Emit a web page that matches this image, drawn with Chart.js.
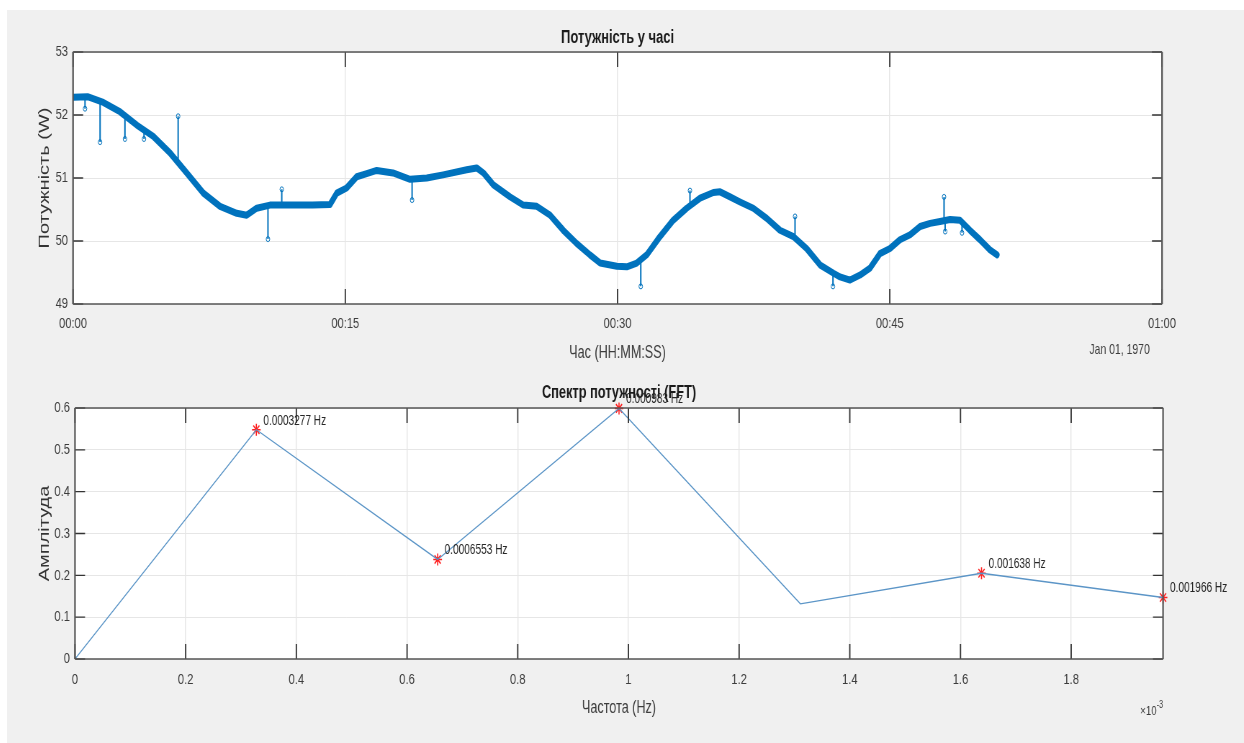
<!DOCTYPE html>
<html>
<head>
<meta charset="utf-8">
<script src="https://cdn.jsdelivr.net/npm/chart.js@4.4.1/dist/chart.umd.min.js"></script>
<style>
  html, body { margin: 0; padding: 0; background: #ffffff; width: 1244px; height: 743px; overflow: hidden; }
  #figure { position: absolute; left: 7px; top: 10px; width: 1237px; height: 733px; background: #f0f0f0; overflow: hidden; }
  #figure canvas { position: absolute; left: 0; transform-origin: 0 0; transform: scaleX(0.72); }
</style>
</head>
<body>
<div id="figure">
  <canvas id="powerChart" width="1718" height="360" style="top:0px"></canvas>
  <canvas id="spectrumChart" width="1718" height="373" style="top:360px"></canvas>
</div>
<script>
// Figure is drawn on a wide canvas and squeezed horizontally by SX (narrow figure text)
const SX = 0.72;
const FONT = "'Liberation Sans', Arial, Helvetica, sans-serif";

// ---- Power over time (minutes since 00:00, watts) ----
const powerTimes = [
  0, 0.8, 1.67, 2.59, 3.51, 4.42, 5.34, 6.26, 7.18, 8.10,
  9.02, 9.57, 10.12, 10.85, 12.0, 13.2, 14.16, 14.53, 15.07, 15.63,
  16.18, 16.73, 17.63, 18.57, 19.49, 20.39, 21.69, 22.24, 22.61, 23.16,
  24.08, 24.81, 25.55, 26.28, 27.01, 27.75, 28.48, 29.04, 29.96, 30.51,
  31.06, 31.61, 32.34, 33.07, 33.81, 34.55, 35.28, 35.65, 36.20, 36.75,
  37.48, 38.22, 38.95, 39.69, 40.42, 41.16, 41.89, 42.26, 42.81, 43.36,
  43.91, 44.46, 45.01, 45.56, 46.12, 46.67, 47.22, 47.77, 48.32, 48.87,
  49.42, 49.97, 50.52, 50.91
];
const powerValues = [
  52.28, 52.29, 52.20, 52.05, 51.84, 51.66, 51.40, 51.08, 50.76, 50.55,
  50.44, 50.41, 50.52, 50.57, 50.57, 50.57, 50.58, 50.76, 50.84, 51.02,
  51.07, 51.12, 51.08, 50.98, 51.00, 51.05, 51.13, 51.16, 51.08, 50.89,
  50.70, 50.57, 50.55, 50.41, 50.17, 49.96, 49.78, 49.65, 49.60, 49.59,
  49.65, 49.78, 50.07, 50.33, 50.52, 50.68, 50.77, 50.78, 50.70, 50.62,
  50.52, 50.36, 50.17, 50.07, 49.88, 49.62, 49.49, 49.43, 49.38, 49.46,
  49.57, 49.80, 49.88, 50.02, 50.10, 50.23, 50.28, 50.31, 50.34, 50.33,
  50.17, 50.02, 49.86, 49.78
];
// short outliers: time, level they leave from, level they reach
const spikeTimes = [0.66, 1.49, 2.86, 3.91, 5.79, 10.74, 11.50, 18.68, 31.28, 33.99, 39.78, 41.87, 47.99, 48.05, 48.98];
const spikeBase  = [52.28, 52.22, 52.00, 51.76, 51.22, 50.56, 50.57, 50.98, 49.70, 50.56, 50.05, 49.50, 50.33, 50.33, 50.33];
const spikePeak  = [52.10, 51.57, 51.62, 51.62, 51.98, 50.03, 50.82, 50.65, 49.28, 50.80, 50.39, 49.28, 50.70, 50.15, 50.13];

const timeTicks = [0, 15, 30, 45, 60];
const powerTicks = [49, 50, 51, 52, 53];

// ---- FFT amplitude spectrum (Hz) ----
const freqs = [0, 0.0003277, 0.0006553, 0.000983, 0.0013107, 0.001638, 0.001966];
const amps  = [0, 0.548, 0.238, 0.599, 0.132, 0.205, 0.147];
const peakFreqs = [0.0003277, 0.0006553, 0.000983, 0.001638, 0.001966];
const peakAmps  = [0.548, 0.238, 0.599, 0.205, 0.147];

const freqTicks = [0, 0.0002, 0.0004, 0.0006, 0.0008, 0.001, 0.0012, 0.0014, 0.0016, 0.0018];
const ampTicks = [0, 0.1, 0.2, 0.3, 0.4, 0.5, 0.6];

const BLUE = '#0072BD';
const TEXT = '#3c3c3c';

function pad2(n) { return String(n).padStart(2, '0'); }

// white axes box, inward ticks on all four sides, dark frame
const matlabAxes = {
  id: 'matlabAxes',
  beforeDraw(chart) {
    const { ctx, chartArea: a } = chart;
    ctx.save();
    ctx.fillStyle = '#ffffff';
    ctx.fillRect(a.left, a.top, a.right - a.left, a.bottom - a.top);
    ctx.restore();
  },
  afterDatasetsDraw(chart) {
    const { ctx, chartArea: a, scales: { x, y } } = chart;
    ctx.save();
    ctx.strokeStyle = '#333333';
    ctx.lineWidth = 1.3 / SX;
    x.ticks.forEach(t => {
      const px = x.getPixelForValue(t.value);
      ctx.beginPath();
      ctx.moveTo(px, a.bottom); ctx.lineTo(px, a.bottom - 15);
      ctx.moveTo(px, a.top); ctx.lineTo(px, a.top + 15);
      ctx.stroke();
    });
    ctx.lineWidth = 1.3;
    y.ticks.forEach(t => {
      const py = y.getPixelForValue(t.value);
      ctx.beginPath();
      ctx.moveTo(a.left, py); ctx.lineTo(a.left + 14, py);
      ctx.moveTo(a.right, py); ctx.lineTo(a.right - 14, py);
      ctx.stroke();
    });
    ctx.strokeStyle = '#555555';
    ctx.lineWidth = 1.6;
    ctx.beginPath();
    ctx.moveTo(a.left, a.top); ctx.lineTo(a.right, a.top);
    ctx.moveTo(a.left, a.bottom); ctx.lineTo(a.right, a.bottom);
    ctx.stroke();
    ctx.lineWidth = 1.6 / SX;
    ctx.beginPath();
    ctx.moveTo(a.left, a.top); ctx.lineTo(a.left, a.bottom);
    ctx.moveTo(a.right, a.top); ctx.lineTo(a.right, a.bottom);
    ctx.stroke();
    ctx.restore();
  }
};

function fixedBox(width, height) {
  return function (scale) {
    if (width !== null) scale.width = width;
    if (height !== null) scale.height = height;
  };
}

const gridStyle = (vertical) => ({
  color: '#e6e6e6',
  lineWidth: vertical ? 1 / SX : 1,
  drawTicks: false
});

// ---------------- Top: power over time ----------------
const mainSeries = powerTimes.map((t, i) => ({ x: t, y: powerValues[i] }));
const spikeSeries = [];
spikeTimes.forEach((t, i) => {
  spikeSeries.push({ x: t, y: spikeBase[i] });
  spikeSeries.push({ x: t, y: spikePeak[i] });
  spikeSeries.push({ x: t, y: null });
});

const dateLabel = {
  id: 'dateLabel',
  afterDraw(chart) {
    const { ctx, chartArea: a } = chart;
    ctx.save();
    ctx.font = '14.5px ' + FONT;
    ctx.fillStyle = TEXT;
    ctx.textAlign = 'right';
    ctx.textBaseline = 'middle';
    ctx.fillText('Jan 01, 1970', a.right - 17, 340);
    ctx.restore();
  }
};

new Chart(document.getElementById('powerChart'), {
  type: 'line',
  data: {
    datasets: [
      {
        data: mainSeries,
        borderColor: BLUE,
        borderWidth: 7,
        borderJoinStyle: 'round',
        borderCapStyle: 'round',
        pointRadius: 0,
        tension: 0
      },
      {
        data: spikeSeries,
        borderColor: BLUE,
        borderWidth: 2,
        spanGaps: false,
        pointRadius: ctx => (ctx.dataIndex % 3 === 1 ? 2.5 : 0),
        pointStyle: 'circle',
        pointBorderColor: BLUE,
        pointBackgroundColor: 'rgba(255,255,255,0)',
        pointBorderWidth: 1,
        tension: 0
      }
    ]
  },
  options: {
    responsive: false,
    devicePixelRatio: 1,
    animation: false,
    layout: { padding: { left: 0, right: 113.8, top: 0, bottom: 0 } },
    plugins: {
      legend: { display: false },
      tooltip: { enabled: false },
      title: {
        display: true,
        fullSize: false,
        text: 'Потужність у часі',
        color: '#1a1a1a',
        font: { family: FONT, size: 18, weight: 'bold', lineHeight: 1 },
        padding: { top: 19, bottom: 5 }
      }
    },
    scales: {
      x: {
        type: 'linear',
        min: 0, max: 60,
        afterBuildTicks: s => { s.ticks = timeTicks.map(v => ({ value: v })); },
        afterFit: fixedBox(null, 66),
        grid: gridStyle(true),
        border: { display: false },
        ticks: {
          autoSkip: false, maxRotation: 0, padding: 10,
          color: TEXT, font: { family: FONT, size: 15.5 },
          callback: v => pad2(Math.floor(v / 60)) + ':' + pad2(Math.round(v % 60))
        },
        title: {
          display: true, text: 'Час (HH:MM:SS)', color: TEXT,
          font: { family: FONT, size: 17.5, lineHeight: 1.2 },
          padding: { top: 0, bottom: 6.5 }
        }
      },
      y: {
        type: 'linear',
        min: 49, max: 53,
        afterBuildTicks: s => { s.ticks = powerTicks.map(v => ({ value: v })); },
        afterFit: fixedBox(91.7, null),
        grid: gridStyle(false),
        border: { display: false },
        ticks: { padding: 7, color: TEXT, font: { family: FONT, size: 15.5 } },
        title: {
          display: true, text: 'Потужність (W)', color: '#333333',
          font: { family: FONT, size: 20, lineHeight: 1.2 },
          padding: { top: 40, bottom: 0 }
        }
      }
    }
  },
  plugins: [matlabAxes, dateLabel]
});

// ---------------- Bottom: FFT spectrum ----------------
function hzText(f) { return parseFloat(f.toPrecision(4)).toString() + ' Hz'; }

const peakLabels = {
  id: 'peakLabels',
  afterDraw(chart) {
    const { ctx, chartArea: a, scales: { x, y } } = chart;
    ctx.save();
    ctx.font = '14px ' + FONT;
    ctx.fillStyle = '#262626';
    ctx.textAlign = 'left';
    ctx.textBaseline = 'middle';
    peakFreqs.forEach((f, i) => {
      const px = x.getPixelForValue(f);
      const py = y.getPixelForValue(peakAmps[i]);
      ctx.fillText(hzText(f), px + 7 / SX, py - 9);
    });
    // exponent of the frequency axis
    ctx.fillStyle = TEXT;
    ctx.textAlign = 'right';
    ctx.textBaseline = 'alphabetic';
    ctx.font = '10px ' + FONT;
    const expW = ctx.measureText('-3').width;
    ctx.fillText('-3', a.right, 338);
    ctx.font = '13.5px ' + FONT;
    ctx.fillText('\u00d710', a.right - expW, 345);
    ctx.restore();
  }
};

new Chart(document.getElementById('spectrumChart'), {
  type: 'line',
  data: {
    datasets: [
      {
        data: freqs.map((f, i) => ({ x: f, y: amps[i] })),
        borderColor: '#5b95c7',
        borderWidth: 1.3,
        pointRadius: 0,
        tension: 0
      },
      {
        data: peakFreqs.map((f, i) => ({ x: f, y: peakAmps[i] })),
        showLine: false,
        clip: false,
        pointStyle: 'star',
        pointRadius: 6,
        pointBorderColor: '#ff2020',
        pointBackgroundColor: '#ff2020',
        pointBorderWidth: 1.6
      }
    ]
  },
  options: {
    responsive: false,
    devicePixelRatio: 1,
    animation: false,
    layout: { padding: { left: 0, right: 112.4, top: 0, bottom: 0 } },
    plugins: {
      legend: { display: false },
      tooltip: { enabled: false },
      title: {
        display: true,
        fullSize: false,
        text: 'Спектр потужності (FFT)',
        color: '#1a1a1a',
        font: { family: FONT, size: 17.8, weight: 'bold', lineHeight: 1 },
        padding: { top: 14, bottom: 6.2 }
      }
    },
    scales: {
      x: {
        type: 'linear',
        min: 0, max: freqs[freqs.length - 1],
        afterBuildTicks: s => { s.ticks = freqTicks.map(v => ({ value: v })); },
        afterFit: fixedBox(null, 84),
        grid: gridStyle(true),
        border: { display: false },
        ticks: {
          autoSkip: false, maxRotation: 0, padding: 11,
          color: TEXT, font: { family: FONT, size: 15.5 },
          callback: v => parseFloat((v * 1000).toFixed(1)).toString()
        },
        title: {
          display: true, text: 'Частота (Hz)', color: TEXT,
          font: { family: FONT, size: 17.5, lineHeight: 1.2 },
          padding: { top: 0, bottom: 24.5 }
        }
      },
      y: {
        type: 'linear',
        min: 0, max: 0.6,
        afterBuildTicks: s => { s.ticks = ampTicks.map(v => ({ value: v })); },
        afterFit: fixedBox(94.4, null),
        grid: gridStyle(false),
        border: { display: false },
        ticks: {
          padding: 7, color: TEXT, font: { family: FONT, size: 15.5 },
          callback: v => parseFloat(v.toFixed(1)).toString()
        },
        title: {
          display: true, text: 'Амплітуда', color: '#333333',
          font: { family: FONT, size: 20, lineHeight: 1.2 },
          padding: { top: 40, bottom: 0 }
        }
      }
    }
  },
  plugins: [matlabAxes, peakLabels]
});
</script>
</body>
</html>
